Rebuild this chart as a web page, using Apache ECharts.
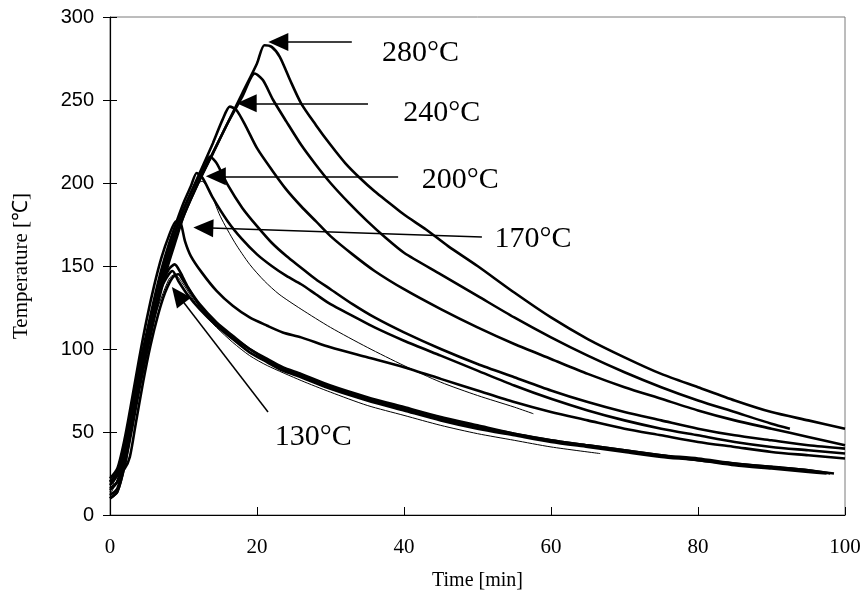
<!DOCTYPE html>
<html lang="en">
<head>
    <meta charset="utf-8">
    <title>Temperature vs time</title>
    <script type="text/javascript" src="https://cdn.jsdelivr.net/npm/echarts@6/dist/echarts.min.js"></script>
    <style>
        html, body { margin: 0; padding: 0; background: #fff; }
    </style>
</head>
<body>
<div id="main" style="width: 868px;height:601px;"></div>
<script type="text/javascript">
    // 曲线数据 [time(min), temperature(℃)]
    var curve280 = [[0,12],[1,16],[2,32],[3,55],[4,78],[5,98],[6,118],[7,136],[8,152],[9,166],[10,180],[12,200],[14,218],[16,236],[18,254],[20,272],[21,283],[22,282],[23.1,276],[24.5,262],[26,248],[28,235],[30,223],[32,212],[34,203],[36,195],[38,188],[40,181],[43,172],[46,162],[50,150],[55,134],[60,119],[65,106],[70,95],[75,85],[80,77],[85,69],[90,62],[95,57],[100,52]];
    var curve260 = [[0,15],[1,20],[2,38],[3,60],[4,82],[5,102],[6,122],[7,140],[8,155],[9,168],[10,180],[12,200],[14,218],[16,236],[18,252],[19.7,266],[20.8,262],[22.2,250],[24,237],[26,223],[28,211],[30,200],[32.5,188],[35,177],[37.5,167],[40,158],[45,145],[50,132],[55,119],[60,107],[65,96],[70,86],[75,77],[80,69],[85,62],[90,55],[92.5,52]];
    var curve240 = [[0,18],[1,24],[2,42],[3,65],[4,88],[5,108],[6,128],[7,145],[8,160],[9,172],[10,184],[12,204],[14,224],[15.3,238],[16.3,246],[17.2,244],[18.5,234],[20,221],[22,208],[24,196],[26,186],[28,177],[30,168],[33,157],[36,147],[40,136],[45,124],[50,113],[55,103],[60,94],[65,85],[70,77],[75,70],[80,63],[85,57],[90,52],[95,47],[100,42]];
    var curve210 = [[0,10],[1,14],[2,30],[3,52],[4,76],[5,98],[6,120],[7,140],[8,158],[9,172],[10,184],[11,194],[12,203],[13,211],[13.6,216],[14.5,212],[16,199],[18,185],[20,174],[22,164],[24,156],[26,149],[28,142],[30,136],[33,127],[36,119],[40,110],[45,100],[50,91],[55,83],[60,75],[65,68],[70,62],[75,57],[80,52],[85,48],[90,45],[95,42],[100,40]];
    var curve200 = [[0,20],[1,26],[2,44],[3,66],[4,90],[5,110],[6,130],[7,148],[8,163],[9,176],[10,188],[11,198],[11.8,206],[12.6,203],[14,191],[16,177],[18,166],[20,157],[22,150],[24,144],[26,139],[28,133],[30,127],[33,120],[36,113],[40,105],[45,96],[50,87],[55,78],[60,70],[65,63],[70,57],[75,52],[80,48],[85,44],[90,41],[95,39],[100,37]];
    var curve200b = [[0,14],[2,38],[4,84],[6,124],[8,158],[10,184],[11.5,198],[12.5,201],[13.5,196],[15,180],[17,164],[19,151],[21,141],[23,133],[26,124],[30,113],[35,101],[40,90],[45,80],[50,72],[55,65],[57.6,61]];
    var curve170 = [[0,22],[1,28],[2,46],[3,70],[4,95],[5,118],[6,138],[7,155],[8,168],[9,177],[9.6,176],[10.2,165],[11,156],[12.5,146],[14.5,135],[16.7,126],[19,119],[21.4,114],[23.5,110],[26,107],[30,101],[35,95],[40,89],[45,82],[50,75],[55,68],[60,62],[65,57],[70,52],[75,48],[80,44],[85,41],[90,38],[95,36],[100,34]];
    var curve130a = [[0,10],[1,14],[2,30],[3,55],[4,80],[5,102],[6,122],[7,138],[8,148],[8.8,151],[9.6,146],[10.5,138],[12.2,127],[14.5,116],[16.7,108],[19,100],[21.4,94],[23.5,89],[26,85],[30,78],[35,71],[40,65],[45,59],[50,54],[55,49],[60,45],[65,42],[70,39],[75,36],[80,33],[85,31],[90,29],[95,27],[98,25]];
    var curve130b = [[0,16],[1,20],[2,34],[3,58],[4,82],[5,104],[6,123],[7,137],[8,145],[8.5,147],[9.3,141],[10.5,133],[12.2,124],[14.5,114],[16.7,106],[19,98],[21.4,92],[23.5,87],[26,83],[30,76],[35,69],[40,63],[45,57],[50,52],[55,48],[60,44],[65,41],[70,38],[75,35],[80,33],[85,30],[90,28],[95,26],[97.5,25]];
    var curve130c = [[0,20],[1,24],[2,28],[2.7,35],[3.5,55],[4.5,80],[5.5,102],[6.5,120],[7.5,134],[8.5,143],[9.3,145],[10,141],[11,134],[12.2,126],[14.5,115],[16.7,107],[19,100],[21.4,93],[23.5,88],[26,84],[30,77],[35,70],[40,64],[45,58],[50,53],[55,49],[60,45],[65,42],[70,39],[75,36],[80,34],[85,31],[90,29],[95,27],[98.5,25]];
    var curve130d = [[0,12],[2,32],[4,78],[6,118],[8,142],[8.8,145],[9.8,140],[11,132],[12.2,124],[14.5,113],[16.7,104],[19,96],[21.4,90],[26,81],[30,74],[35,66],[40,60],[45,54],[50,49],[55,45],[60,41],[66.7,37]];

    // 粗线 / 细线
    var thickCurves = [curve280, curve260, curve240, curve210, curve200, curve170, curve130a, curve130b, curve130c];
    var thinCurves = [curve200b, curve130d];

    // 标注: 箭头 [箭头处, 尾端]，文字 [x, y, text]
    var arrows = [
        [[22.9, 285], [32.9, 285]],
        [[18.6, 248], [35.1, 248]],
        [[14.4, 204], [39.2, 204]],
        [[12.7, 173], [50.6, 167.5]],
        [[9.25, 132.5], [21.5, 62]]
    ];
    var notes = [
        [37.0, 278, '280°C'],
        [39.9, 242, '240°C'],
        [42.4, 202, '200°C'],
        [52.3, 166, '170°C'],
        [22.4, 47, '130°C']
    ];

    var xTicks = { min: 0, max: 100, interval: 20 };
    var yTicks = { min: 0, max: 300, interval: 50 };

    var myChart = echarts.init(document.getElementById('main'));

    var series = [];
    thickCurves.forEach(function (d) {
        series.push({ type: 'line', data: d, showSymbol: false, smooth: 0.25,
            lineStyle: { color: '#000', width: 2.6 }, silent: true, z: 3 });
    });
    thinCurves.forEach(function (d) {
        series.push({ type: 'line', data: d, showSymbol: false, smooth: 0.25,
            lineStyle: { color: '#000', width: 1 }, silent: true, z: 3 });
    });
    // 箭头
    series.push({
        type: 'line', data: [], silent: true,
        markLine: {
            silent: true, animation: false,
            symbol: ['triangle', 'none'], symbolSize: [18, 20],
            label: { show: false },
            lineStyle: { color: '#000', width: 1.5, type: 'solid' },
            emphasis: { disabled: true },
            data: arrows.map(function (a) { return [{ coord: a[0] }, { coord: a[1] }]; })
        }
    });
    // 文字
    series.push({
        type: 'scatter', symbolSize: 0, silent: true, z: 5,
        itemStyle: { opacity: 1 },
        data: notes.map(function (n) { return { value: [n[0], n[1]], name: n[2] }; }),
        label: {
            show: true, position: 'right', distance: 0,
            formatter: function (p) { return p.name; },
            fontFamily: 'Liberation Serif', fontSize: 30, color: '#000'
        }
    });

    var option = {
        animation: false,
        grid: { left: 110, right: 23, top: 17, bottom: 86, show: true, borderColor: '#7a7a7a', borderWidth: 1 },
        xAxis: {
            type: 'value', min: xTicks.min, max: xTicks.max, interval: xTicks.interval,
            name: 'Time [min]', nameLocation: 'middle', nameGap: 56,
            nameTextStyle: { fontFamily: 'Liberation Serif', fontSize: 20, color: '#000' },
            axisLine: { lineStyle: { color: '#000', width: 1.2 } },
            axisTick: { inside: true, length: 8, lineStyle: { color: '#000' } },
            axisLabel: { margin: 22, fontFamily: 'Liberation Sans Narrow', fontSize: 21, color: '#000' },
            splitLine: { show: false }
        },
        yAxis: [{
            type: 'value', min: yTicks.min, max: yTicks.max, interval: yTicks.interval,
            name: 'Temperature [℃]', nameLocation: 'middle', nameGap: 78,
            nameTextStyle: { fontFamily: 'Liberation Serif', fontSize: 21, color: '#000' },
            axisLine: { lineStyle: { color: '#000', width: 1.2 } },
            axisTick: { length: 7, lineStyle: { color: '#000' } },
            axisLabel: { margin: 16, fontFamily: 'Liberation Sans', fontSize: 20, color: '#000' },
            splitLine: { show: false }
        }, {
            // 刻度穿过轴线
            type: 'value', position: 'left', min: yTicks.min, max: yTicks.max, interval: yTicks.interval,
            axisLine: { show: false },
            axisTick: { inside: true, length: 7, lineStyle: { color: '#000' } },
            axisLabel: { show: false },
            splitLine: { show: false }
        }],
        series: series
    };
    myChart.setOption(option);
</script>
</body>
</html>
